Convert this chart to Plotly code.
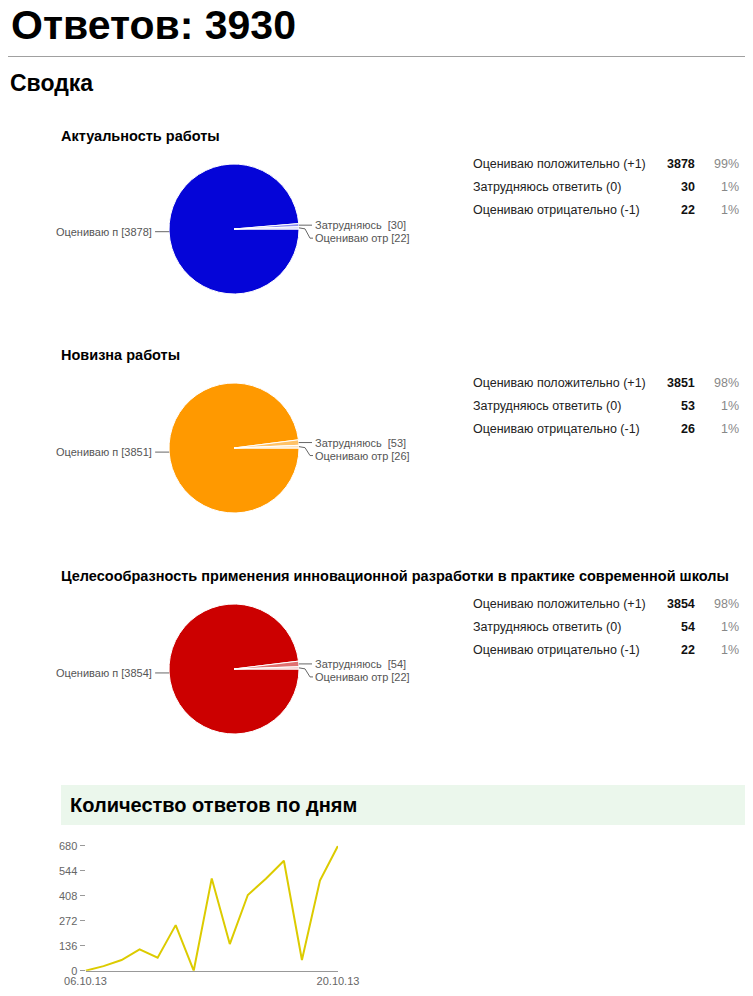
import math
import plotly.graph_objects as go

# the page body keeps its 8px margin, so the figure is a bit smaller than the window
W, H = 737, 980

answers_total = 3930

answer_labels = ["Оцениваю положительно (+1)", "Затрудняюсь ответить (0)", "Оцениваю отрицательно (-1)"]
short_labels = ["Оцениваю п", "Затрудняюсь ", "Оцениваю отр"]

question_titles = [
    "Актуальность работы",
    "Новизна работы",
    "Целесообразность применения инновационной разработки в практике современной школы",
]
counts_q1 = [3878, 30, 22]
counts_q2 = [3851, 53, 26]
counts_q3 = [3854, 54, 22]
question_counts = [counts_q1, counts_q2, counts_q3]

colors_q1 = ["#0505d8", "#8a8af0", "#d0d0fa"]
colors_q2 = ["#ff9900", "#ffc266", "#ffe2b8"]
colors_q3 = ["#cc0000", "#e07070", "#f2c0c0"]
question_colors = [colors_q1, colors_q2, colors_q3]

days = ["06.10.13", "07.10.13", "08.10.13", "09.10.13", "10.10.13", "11.10.13", "12.10.13", "13.10.13",
        "14.10.13", "15.10.13", "16.10.13", "17.10.13", "18.10.13", "19.10.13", "20.10.13"]
daily_counts = [0, 25, 58, 116, 71, 248, 0, 502, 145, 412, 500, 598, 58, 490, 680]
y_ticks = [0, 136, 272, 408, 544, 680]

FONT = "Liberation Sans, Arial, sans-serif"


def fx(p):
    # page pixel -> paper x
    return (p - 8) / W


def fy(p):
    # page pixel -> paper y
    return 1 - (p - 8) / H


fig = go.Figure()
annotations = []
shapes = []


def text(x, y, s, size, color="#000", anchor="left", **kw):
    annotations.append(dict(
        x=fx(x), y=fy(y), xref="paper", yref="paper", text=s, showarrow=False,
        xanchor=anchor, yanchor="middle", font=dict(family=FONT, size=size, color=color), **kw))


def line(points, color="#666"):
    path = "M " + " L ".join(f"{fx(a)},{fy(b)}" for a, b in points)
    shapes.append(dict(type="path", path=path, xref="paper", yref="paper",
                       line=dict(color=color, width=1)))


# header
text(10, 25, f"<b>Ответов: {answers_total}</b>", 41, height=34, borderpad=0)
shapes.append(dict(type="line", xref="paper", yref="paper", x0=0, x1=1,
                   y0=fy(56.5), y1=fy(56.5), line=dict(color="#a0a0a0", width=1)))
text(8, 83, "<b>Сводка</b>", 23)

section_tops = [136, 355, 576]

for i in range(3):
    top = section_tops[i]
    vals = question_counts[i]
    total = sum(vals)
    cx, cy, r = 234, top + 93, 65

    text(59, top, f"<b>{question_titles[i]}</b>", 14.5)

    fig.add_trace(go.Pie(
        values=vals, labels=answer_labels, sort=False, direction="clockwise", rotation=90,
        marker=dict(colors=question_colors[i], line=dict(color="white", width=1)),
        domain=dict(x=[fx(cx - r), fx(cx + r)], y=[fy(cy + r), fy(cy - r)]),
        textinfo="none", showlegend=False, hoverinfo="label+value+percent",
    ))

    # slice midpoints on the rim (clockwise from 3 o'clock)
    acc = 0
    rim = []
    for v in vals:
        a = (acc + v / 2) / total * 2 * math.pi
        rim.append((cx + r * math.cos(a), cy + r * math.sin(a)))
        acc += v

    x0, y0 = rim[0]
    line([(x0, y0), (x0 - 14, y0)])
    text(x0 - 15, y0, f"{short_labels[0]} [{vals[0]}]", 11, "#555", "right")

    x1, y1 = rim[1]
    line([(x1, y1), (cx + r + 13, y1)])
    text(cx + r + 14, y1, f"{short_labels[1]} [{vals[1]}]", 11, "#555")

    x2, y2 = rim[2]
    line([(x2, y2), (cx + r + 6, y2 + 1), (cx + r + 11, y1 + 13), (cx + r + 14, y1 + 13)])
    text(cx + r + 14, y1 + 13, f"{short_labels[2]} [{vals[2]}]", 11, "#555")

    # summary table
    for j in range(3):
        ry = top + 28 + j * 23
        text(471, ry, answer_labels[j], 12.5, "#222")
        text(697, ry, f"<b>{vals[j]}</b>", 12.5, "#111", "right")
        text(741, ry, f"{round(vals[j] / total * 100)}%", 12.5, "#888", "right")

# daily responses block
shapes.append(dict(type="rect", xref="paper", yref="paper", x0=fx(61), x1=1,
                   y0=fy(825), y1=fy(785), fillcolor="#ebf7ec", line=dict(width=0), layer="below"))
text(68, 805, "<b>Количество ответов по дням</b>", 20)

fig.add_trace(go.Scatter(
    x=days, y=daily_counts, mode="lines", line=dict(color="#dccb00", width=2),
    showlegend=False, cliponaxis=False, hovertemplate="%{x}: %{y}<extra></extra>",
))

fig.update_xaxes(
    domain=[fx(85.5), fx(338)], type="category", range=[0, len(days) - 1],
    tickvals=[days[0], days[-1]], showgrid=False, zeroline=False, automargin=False,
    showline=True, linecolor="#999", linewidth=1, ticks="",
    tickfont=dict(family=FONT, size=11, color="#666"),
)
fig.update_yaxes(
    domain=[fy(970.7), fy(845.7)], range=[0, 680], tickvals=y_ticks, automargin=False,
    showgrid=False, zeroline=False, showline=False, ticks="outside", ticklen=5,
    tickcolor="#999", tickfont=dict(family=FONT, size=11, color="#666"),
)

fig.update_layout(
    width=W, height=H, margin=dict(l=0, r=0, t=0, b=0, autoexpand=False),
    paper_bgcolor="white", plot_bgcolor="white",
    annotations=annotations, shapes=shapes,
    font=dict(family=FONT),
)

fig.write_html("out.html")
